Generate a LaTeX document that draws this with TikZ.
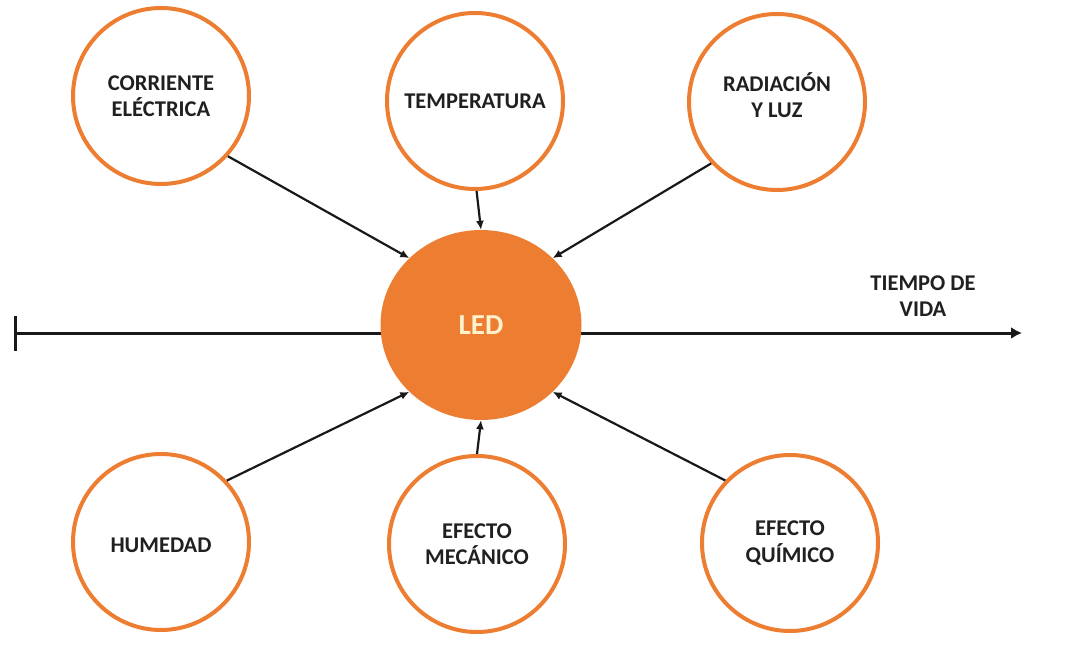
\documentclass[tikz,border=0pt]{standalone}
\usepackage{fontspec}
\setmainfont{Carlito}
\usetikzlibrary{arrows.meta,shapes.geometric}
\definecolor{orng}{HTML}{ED7D31}
\definecolor{txt}{HTML}{202020}
\definecolor{ledtxt}{HTML}{FFF2CC}
\begin{document}
\begin{tikzpicture}[x=1pt,y=-1pt,
  lbl/.style={font=\fontsize{22.5}{26.5}\selectfont\bfseries,text=txt,align=center},
  factor/.style={circle,draw=orng,line width=4pt,fill=white,minimum size=176pt,inner sep=0pt,lbl},
  link/.style={-{Latex[length=9pt,width=8pt]},line width=2.2pt,draw=black!90},
  axis/.style={line width=3pt,draw=black!90,{Bar[width=35pt,line width=3pt]}-{Latex[length=11pt,width=12pt]}}
]
\useasboundingbox (0,0) rectangle (1081,660);
\fill[white] (0,0) rectangle (1081,660);

\coordinate (tl) at (14,333);
\coordinate (tr) at (1022,333);
\draw[axis] (tl) -- (tr);

\node[ellipse,fill=orng,minimum width=201pt,minimum height=190pt,inner sep=0pt,
  font=\fontsize{29}{32}\selectfont\bfseries,text=ledtxt] (led) at (481,325) {LED};

\node[factor] (ce)   at (161,96)  {CORRIENTE\\ELÉCTRICA};
\node[factor] (temp) at (475,101) {TEMPERATURA};
\node[factor] (rad)  at (777,102) {};
\node[lbl]    (radt) at (777,95)  {RADIACIÓN\\Y LUZ};
\node[factor] (hum)  at (161,542) {};
\node[lbl]    (humt) at (161,545) {HUMEDAD};
\node[factor] (mec)  at (477,544) {EFECTO\\MECÁNICO};
\node[factor] (qui)  at (790,543) {EFECTO\\QUÍMICO};

\node[lbl] (tiempo) at (923,296) {TIEMPO DE\\VIDA};

\draw[link] (ce.-42)  -- (led.137);
\draw[link] (temp.-89) -- (led.90);
\draw[link] (rad.223) -- (led.43);
\draw[link] (hum.43)  -- (led.-137);
\draw[link] (mec.90)  -- (led.-90);
\draw[link] (qui.136) -- (led.-43);
\end{tikzpicture}
\end{document}
